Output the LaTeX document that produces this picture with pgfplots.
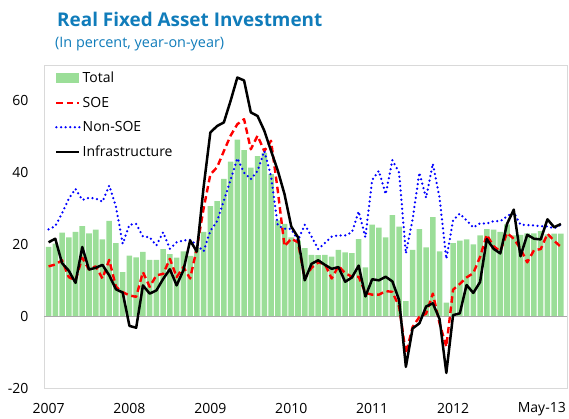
\documentclass[border=0pt]{standalone}
\usepackage{fontspec}
\setmainfont{Open Sans}
\usepackage{pgfplots}
\usepackage{pgfplotstable}
\pgfplotsset{compat=1.18}
\definecolor{titleblue}{RGB}{16,124,186}
\definecolor{bargreen}{RGB}{155,222,152}
\definecolor{framegray}{RGB}{217,217,217}
\definecolor{zerogray}{RGB}{170,170,170}

\pgfplotstableread{
i T S N I
0 19.3 13.9 24.2 20.6
1 20.2 14.4 25.1 21.6
2 23.3 15.6 28.7 14.8
3 22.0 10.9 32.7 12.7
4 23.5 10.0 35.5 9.3
5 25.1 16.3 32.4 19.3
6 23.1 13.0 33.0 13.0
7 24.1 13.9 32.8 13.5
8 21.4 10.5 31.9 14.3
9 26.6 15.7 36.4 11.4
10 20.4 8.2 30.5 7.5
11 12.3 6.7 20.2 6.6
12 16.9 5.8 25.5 -2.7
13 16.4 5.4 25.7 -3.2
14 17.9 12.3 22.2 8.6
15 15.7 8.2 22.0 6.3
16 15.7 11.4 19.7 7.2
17 18.7 11.8 23.4 10.4
18 17.3 16.0 18.8 13.1
19 16.3 10.9 20.6 8.6
20 18.1 13.7 21.1 12.8
21 16.8 10.5 21.3 21.1
22 19.0 19.0 19.8 18.0
23 23.5 30.0 18.1 36.0
24 30.7 39.5 23.8 51.2
25 32.1 41.5 26.5 53.0
26 38.3 46.0 32.2 54.0
27 43.1 50.3 38.0 60.0
28 49.2 53.5 44.0 66.5
29 46.3 54.9 40.0 65.7
30 41.4 46.5 38.2 56.8
31 44.6 50.3 40.5 55.8
32 45.5 46.0 46.0 51.7
33 39.6 48.9 39.0 46.1
34 26.7 35.0 25.3 40.6
35 25.7 19.5 24.4 34.0
36 22.0 21.6 24.3 25.0
37 21.1 20.6 21.1 22.0
38 19.0 10.5 25.5 10.0
39 17.1 13.5 22.2 14.6
40 17.0 15.0 18.7 15.6
41 17.1 14.5 20.4 14.3
42 16.6 10.5 22.2 13.2
43 18.5 14.0 22.5 13.7
44 17.8 12.0 22.5 9.6
45 17.6 11.0 23.4 10.8
46 21.5 11.0 29.2 14.1
47 13.6 6.5 22.0 5.5
48 25.5 6.0 38.0 10.3
49 24.7 6.0 40.5 10.0
50 22.0 7.0 34.0 11.0
51 28.2 6.8 43.5 9.7
52 25.0 2.6 40.0 4.5
53 4.2 -10.4 17.5 -14.1
54 18.5 -3.0 27.0 -3.4
55 24.3 -0.2 40.0 -2.0
56 19.2 0.7 33.0 2.7
57 27.6 6.3 42.5 3.6
58 18.1 -2.0 33.0 -0.8
59 3.8 -8.5 16.0 -15.8
60 20.4 7.4 26.7 0.3
61 21.1 9.0 28.6 0.8
62 21.4 10.8 26.7 8.7
63 20.0 12.0 24.7 6.5
64 22.5 16.5 25.9 9.5
65 24.3 22.7 25.8 21.5
66 24.1 19.5 26.5 18.8
67 23.5 18.1 26.5 17.5
68 25.6 23.2 27.8 25.7
69 22.5 21.6 29.0 29.7
70 22.7 18.8 25.5 16.7
71 23.1 15.0 25.4 22.7
72 23.1 18.4 25.3 21.6
73 23.7 18.7 25.1 21.4
74 22.8 23.0 25.0 27.0
75 23.0 21.0 24.5 24.8
76 23.0 19.3 25.5 25.7
}\data

\begin{document}
\begin{tikzpicture}
\path[use as bounding box] (0pt,0pt) rectangle (569pt,418pt);
\node[anchor=base west, text=titleblue, font=\bfseries\fontsize{18.9}{22}\selectfont, inner sep=0pt] at (57pt,391.3pt) {Real Fixed Asset Investment};
\node[anchor=base west, text=titleblue, font=\fontsize{14.4}{16}\selectfont, inner sep=0pt] at (55pt,370.7pt) {(In percent, year-on-year)};
\begin{axis}[
  at={(44.5pt,30pt)}, anchor=south west, scale only axis,
  width=522.5pt, height=323pt,
  xmin=-0.6, xmax=76.9, ymin=-20, ymax=70,
  ytick={-20,0,20,40,60},
  xtick={0,12,24,36,48,60},
  xticklabels={2007,2008,2009,2010,2011,2012},
  major tick length=0pt,
  /pgf/number format/assume math mode=true,
  tick label style={font=\fontsize{14}{16}\selectfont, inner sep=0pt},
  yticklabel style={xshift=-16pt},
  xticklabel style={yshift=-15pt},
  axis line style={framegray, line width=1pt},
  legend image code/.code={\draw[#1] (0pt,0pt) -- (23pt,0pt);},
  legend cell align=left,
  legend style={draw=none, fill=none, at={(0.0201,0.9814)}, anchor=north west,
    font=\fontsize{14}{16}\selectfont, inner sep=0pt, row sep=10.7pt, column sep=1pt,
    nodes={inner sep=1pt}},
  clip=false,
]
\addplot[ybar, bar width=0.82, bar shift=0pt, fill=bargreen, draw=none,
  legend image code/.code={\fill[bargreen] (0pt,-5pt) rectangle (23pt,5pt);}]
  table[x=i,y=T]{\data};
\addlegendentry{Total}
\draw[zerogray, line width=1pt] (axis cs:-0.6,0) -- (axis cs:76.9,0);
\addplot[red, line width=2.4pt, dash pattern=on 6.5pt off 3.8pt, line join=round] table[x=i,y=S]{\data};
\addlegendentry{SOE}
\addplot[blue, line width=2.5pt, dash pattern=on 0pt off 4.6pt, line cap=round, line join=round] table[x=i,y=N]{\data};
\addlegendentry{Non-SOE}
\addplot[black, line width=2.5pt, line join=round] table[x=i,y=I]{\data};
\addlegendentry{Infrastructure}
\node[anchor=north east, inner sep=0pt, font=\fontsize{14}{16}\selectfont] at (rel axis cs:1,0) [xshift=-1pt, yshift=-13.7pt] {May-13};
\end{axis}
\end{tikzpicture}
\end{document}
